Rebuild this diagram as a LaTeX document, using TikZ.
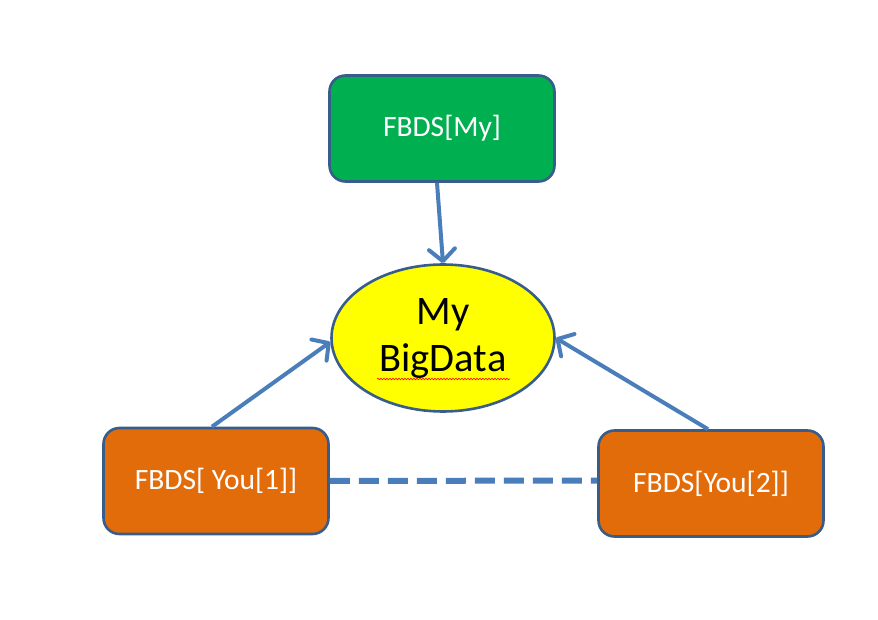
\documentclass[tikz,border=0pt]{standalone}
\usepackage{fontspec}
\setmainfont{Carlito}
\usetikzlibrary{arrows.meta,shapes.geometric,decorations.pathmorphing}
\definecolor{bordblue}{HTML}{385D8A}
\definecolor{arrblue}{HTML}{4A7EBB}
\definecolor{boxgreen}{HTML}{00B050}
\definecolor{boxorange}{HTML}{E36C0A}
\definecolor{ellyellow}{HTML}{FFFF00}
\tikzset{
  fbox/.style={draw=bordblue, line width=2.6pt, rounded corners=16pt, minimum width=225pt, minimum height=106pt, text=white, font=\fontsize{29.5}{34}\selectfont, inner sep=0pt},
  conn/.style={draw=arrblue, line width=4pt, -{Straight Barb[length=12pt,width=26pt,line width=4pt,round]}},
  dashconn/.style={draw=arrblue, line width=6pt, dash pattern=on 20pt off 9pt}
}
\begin{document}
\begin{tikzpicture}[x=1pt,y=-1pt]
\useasboundingbox (0,0) rectangle (878,620);
\node[fbox, fill=boxgreen] (my) at (442,128.5) {FBDS[My]};
\node[ellipse, draw=bordblue, line width=2.6pt, fill=ellyellow, minimum width=223pt, minimum height=147pt, inner sep=0pt, align=center, font=\fontsize{40.5}{47}\selectfont] (big) at (443,338) {\raisebox{-4pt}{My}\\\raisebox{-4pt}{BigData}};
\node[fbox, fill=boxorange] (y1) at (216,481) {FBDS[ You[1]]};
\node[fbox, fill=boxorange] (y2) at (711,483.5) {FBDS[You[2]]};
\draw[conn] ([xshift=-5pt]my.south) -- (big.north);
\draw[conn] ([xshift=-4pt]y1.north) -- (big.182);
\draw[conn] ([xshift=-3pt]y2.north) -- (big.0);
\draw[dashconn] (y1.east) -- ([yshift=3pt]y2.west);
\draw[red, line width=0.6pt, decorate, decoration={snake, amplitude=0.8pt, segment length=3pt}] ([xshift=-66pt,yshift=-41pt]big.center) -- ([xshift=67pt,yshift=-41pt]big.center);
\end{tikzpicture}
\end{document}
